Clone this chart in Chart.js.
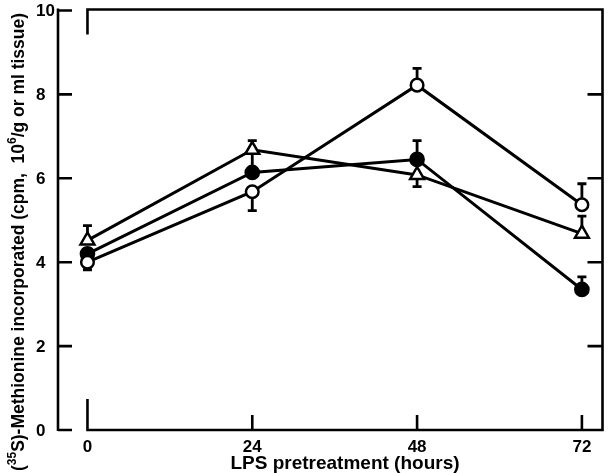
<!DOCTYPE html>
<html>
<head>
<meta charset="utf-8">
<script src="https://cdn.jsdelivr.net/npm/chart.js@4"></script>
<style>
  body { margin: 0; background: #fff; }
  #wrap { width: 613px; height: 473px; position: relative; }
</style>
</head>
<body>
<div id="wrap"><canvas id="chart"></canvas></div>
<script>
const hours = [0, 24, 48, 72];
const openCircle = [4.0, 5.68, 8.22, 5.37];
const openCircleErr = [-0.18, -0.45, 0.4, 0.5];
const filledCircle = [4.2, 6.14, 6.45, 3.35];
const filledCircleErr = [0.12, 0.45, 0.45, 0.3];
const triangle = [4.52, 6.68, 6.08, 4.68];
const triangleErr = [0.35, 0.22, -0.28, 0.42];
const yTicks = [0, 2, 4, 6, 8, 10];
const xTicks = [0, 24, 48, 72];
const xTitle = 'LPS pretreatment (hours)';
// y title pieces, second field = superscript
const yTitle = [['(', false], ['35', true], ['S)-Methionine incorporated (cpm,  10', false], ['6', true], ['/g or ml tissue)', false]];

const errors = [openCircleErr, filledCircleErr, triangleErr];
const ink = '#000';
const fontFam = '"Liberation Sans", Arial, sans-serif';

function series(vals) {
  return hours.map((h, i) => ({ x: h, y: vals[i] }));
}

const errorBars = {
  id: 'errorBars',
  beforeDatasetsDraw(chart) {
    const ctx = chart.ctx;
    const xs = chart.scales.x, ys = chart.scales.y;
    ctx.save();
    ctx.strokeStyle = ink;
    ctx.lineWidth = 2.8;
    chart.data.datasets.forEach((ds, i) => {
      ds.data.forEach((p, j) => {
        const err = errors[i][j];
        const x = xs.getPixelForValue(p.x);
        const y0 = ys.getPixelForValue(p.y);
        const y1 = ys.getPixelForValue(p.y + err);
        ctx.beginPath();
        ctx.moveTo(x, y0);
        ctx.lineTo(x, y1);
        ctx.moveTo(x - 4.5, y1);
        ctx.lineTo(x + 4.5, y1);
        ctx.stroke();
      });
    });
    ctx.restore();
  }
};

const frame = {
  id: 'frame',
  afterDraw(chart) {
    const ctx = chart.ctx;
    const { left, right, top, bottom } = chart.chartArea;
    const xs = chart.scales.x, ys = chart.scales.y;
    const x0 = xs.getPixelForValue(0);
    ctx.save();
    ctx.strokeStyle = ink;
    ctx.lineWidth = 2.6;
    ctx.beginPath();
    // left axis with inward ticks
    ctx.moveTo(left, top - 2);
    ctx.lineTo(left, bottom + 1);
    yTicks.forEach(v => {
      const y = ys.getPixelForValue(v);
      ctx.moveTo(left, y);
      ctx.lineTo(left + 14, y);
    });
    // box
    ctx.moveTo(x0, top + 24);
    ctx.lineTo(x0, top - 1);
    ctx.lineTo(right, top - 1);
    ctx.lineTo(right, bottom);
    ctx.lineTo(x0, bottom);
    ctx.lineTo(x0, bottom - 31);
    xTicks.slice(1).forEach(v => {
      const x = xs.getPixelForValue(v);
      ctx.moveTo(x, bottom);
      ctx.lineTo(x, bottom - 15);
    });
    yTicks.slice(1, -1).forEach(v => {
      const y = ys.getPixelForValue(v);
      ctx.moveTo(right, y);
      ctx.lineTo(right - 15, y);
    });
    ctx.stroke();

    // tick labels
    ctx.fillStyle = ink;
    ctx.font = 'bold 17px ' + fontFam;
    ctx.textAlign = 'left';
    ctx.textBaseline = 'middle';
    yTicks.forEach(v => ctx.fillText(String(v), 36, ys.getPixelForValue(v) + 1));
    ctx.textAlign = 'center';
    ctx.textBaseline = 'top';
    xTicks.forEach(v => ctx.fillText(String(v), xs.getPixelForValue(v), bottom + 9));

    // x title
    ctx.font = 'bold 19px ' + fontFam;
    ctx.textBaseline = 'alphabetic';
    const xw = ctx.measureText(xTitle).width;
    ctx.save();
    ctx.translate(345, 469);
    ctx.scale(Math.min(1, 234 / xw), 1);
    ctx.fillText(xTitle, 0, 0);
    ctx.restore();

    // y title, rotated, with superscripts
    const big = 'bold 19px ' + fontFam, small = 'bold 13px ' + fontFam;
    let total = 0;
    yTitle.forEach(([t, sup]) => { ctx.font = sup ? small : big; total += ctx.measureText(t).width; });
    const sx = Math.min(1, 458 / total);
    ctx.save();
    ctx.translate(24, 242);
    ctx.rotate(-Math.PI / 2);
    ctx.scale(sx, 1);
    ctx.textAlign = 'left';
    let pos = -total / 2;
    yTitle.forEach(([t, sup]) => {
      ctx.font = sup ? small : big;
      ctx.fillText(t, pos, sup ? -8 : 0);
      pos += ctx.measureText(t).width;
    });
    ctx.restore();
    ctx.restore();
  }
};

const common = {
  borderColor: ink,
  borderWidth: 3,
  pointBorderColor: ink,
  pointBorderWidth: 2.5,
  pointHoverRadius: 6,
  tension: 0
};

new Chart(document.getElementById('chart'), {
  type: 'line',
  data: {
    datasets: [
      Object.assign({ label: 'open', data: series(openCircle), pointStyle: 'circle', pointRadius: 6.3, pointBackgroundColor: '#fff' }, common),
      Object.assign({ label: 'filled', data: series(filledCircle), pointStyle: 'circle', pointRadius: 6.6, pointBackgroundColor: ink }, common),
      Object.assign({ label: 'triangle', data: series(triangle), pointStyle: 'triangle', pointRadius: 8, pointBackgroundColor: '#fff' }, common)
    ]
  },
  options: {
    responsive: true,
    maintainAspectRatio: false,
    animation: false,
    layout: { padding: { left: 58, right: 1, top: 10, bottom: 43 } },
    plugins: { legend: { display: false }, tooltip: { enabled: false } },
    scales: {
      x: { type: 'linear', min: -4.29, max: 75, display: false },
      y: { type: 'linear', min: 0, max: 10, display: false }
    }
  },
  plugins: [errorBars, frame]
});
</script>
</body>
</html>
